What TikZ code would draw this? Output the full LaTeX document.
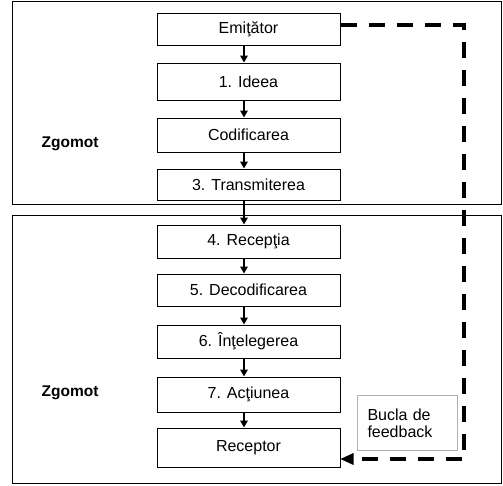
\documentclass[tikz,border=0pt]{standalone}
\usepackage{fontspec}
\setmainfont{Liberation Sans}
\usetikzlibrary{arrows.meta}
\begin{document}
\begin{tikzpicture}[x=1pt,y=-1pt,
 box/.style={draw, line width=1pt, minimum width=183pt, inner sep=0pt, font=\fontsize{16}{18}\selectfont},
 arr/.style={line width=1.8pt, -{Triangle[length=7pt,width=7.5pt]}},
 fb/.style={line width=4pt, dash pattern=on 16pt off 12pt},
 frame/.style={line width=1pt},
 zg/.style={font=\fontsize{15.5}{18}\selectfont\bfseries},
 ]
\useasboundingbox (0,0) rectangle (503,485);
\draw[frame] (12,1) rectangle (501,204);
\draw[frame] (12,215) rectangle (501,483);
\node[box, minimum height=32pt] (e) at (248.5,29) {Emiţător};
\node[box, minimum height=37pt] (i) at (248.5,81.5) {1. Ideea};
\node[box, minimum height=34pt] (c) at (248.5,135) {Codificarea};
\node[box, minimum height=31pt] (t) at (248.5,184.5) {3. Transmiterea};
\node[box, minimum height=33pt] (r4) at (248.5,241.5) {4. Recepţia};
\node[box, minimum height=32pt] (d) at (248.5,290) {5. Decodificarea};
\node[box, minimum height=33pt] (u) at (248.5,341.5) {6. Înţelegerea};
\node[box, minimum height=35pt] (a) at (248.5,394.5) {7. Acţiunea};
\node[box, minimum height=39pt] (rc) at (248.5,447.5) {Receptor};
\node[zg] (z1) at (70,144) {Zgomot};
\node[zg] (z2) at (70,393) {Zgomot};
\node[draw=gray!60, line width=1pt, anchor=north west, minimum width=95pt, minimum height=55pt,
      text width=80pt, inner xsep=10pt, align=left, font=\fontsize{16}{17}\selectfont] (bf) at (357,395) {Bucla de\\feedback};
\coordinate (ax) at (244,0);
\foreach \p/\q in {e/i, i/c, c/t, t/r4, r4/d, d/u, u/a, a/rc}
  \draw[arr] (\p.south -| ax) -- (\q.north -| ax);
\coordinate (fbA) at (464,25);
\coordinate (fbB) at (464,459);
\draw[fb] (e.east |- fbA) -- (fbA) -- (fbB) -- ([xshift=12pt]rc.east |- fbB);
\fill ([xshift=13pt,yshift=-6pt]rc.east |- fbB) -- (rc.east |- fbB) -- ([xshift=13pt,yshift=6pt]rc.east |- fbB) -- cycle;
\end{tikzpicture}
\end{document}
